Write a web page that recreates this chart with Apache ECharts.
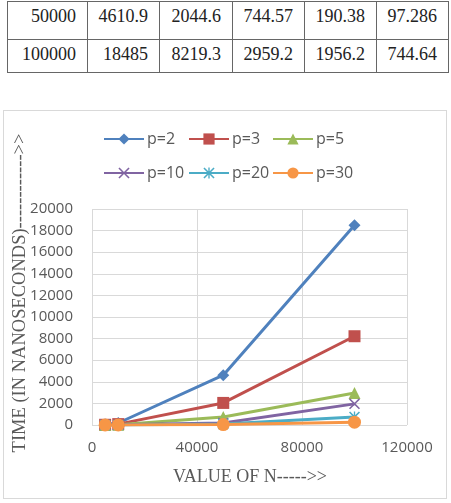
<!DOCTYPE html>
<html>
<head>
<meta charset="utf-8">
<script src="https://cdn.jsdelivr.net/npm/echarts@6/dist/echarts.min.js"></script>
<style>
  html, body { margin: 0; padding: 0; background: #fff; }
  body { width: 451px; height: 503px; position: relative; overflow: hidden; }
  .tbl {
    position: absolute; left: 7px; top: 1px;
    border-collapse: collapse;
    font-family: "Liberation Serif", "Times New Roman", serif;
    font-size: 18px; color: #222;
  }
  .tbl td {
    border: 1px solid #666; text-align: right; vertical-align: top;
    padding: 4px 11px 0 0; line-height: 20px; box-sizing: border-box;
  }
  .tbl tr.r1 td { height: 38px; }
  .tbl tr.r2 td { height: 33px; }
  #box {
    position: absolute; left: 3px; top: 110px; width: 444px; height: 389px;
    border: 1px solid #d9d9d9; box-sizing: border-box;
  }
  #chart { width: 442px; height: 387px; }
</style>
</head>
<body>
<table class="tbl" id="tbl"></table>
<div id="box"><div id="chart"></div></div>
<script>
// table rows (N, p=2, p=3, p=5, p=10, p=20)
const tableRows = [
  ['50000', '4610.9', '2044.6', '744.57', '190.38', '97.286'],
  ['100000', '18485', '8219.3', '2959.2', '1956.2', '744.64']
]
const colWidths = [80, 72, 73, 72, 72, 72]

// chart data
const nValues = [5000, 10000, 50000, 100000]
const seriesNames = ['p=2', 'p=3', 'p=5', 'p=10', 'p=20', 'p=30']
const p2 = [46, 185, 4610.9, 18485]
const p3 = [21, 82, 2044.6, 8219.3]
const p5 = [8, 30, 744.57, 2959.2]
const p10 = [10, 20, 190.38, 1956.2]
const p20 = [5, 10, 97.286, 744.64]
const p30 = [4, 8, 40, 260]
const yTicks = [0, 2000, 4000, 6000, 8000, 10000, 12000, 14000, 16000, 18000, 20000]
const xTicks = [0, 40000, 80000, 120000]

const colors = ['#4F81BD', '#C0504D', '#9BBB59', '#8064A2', '#4BACC6', '#F79646']
const xMark = 'path://M0,1 L1,0 L5,4 L9,0 L10,1 L6,5 L10,9 L9,10 L5,6 L1,10 L0,9 L4,5 Z'
const starMark = 'path://M0,1 L1,0 L5,4 L9,0 L10,1 L6,5 L10,9 L9,10 L5,6 L1,10 L0,9 L4,5 Z M4.4,0 L5.6,0 L5.6,10 L4.4,10 Z'
const symbols = ['diamond', 'rect', 'triangle', xMark, starMark, 'circle']
const symbolSizes = [12, 12, 12, 11, 11, 13]

// build the table
const tbl = document.getElementById('tbl')
tableRows.forEach((row, i) => {
  const tr = document.createElement('tr')
  tr.className = i === 0 ? 'r1' : 'r2'
  row.forEach((v, j) => {
    const td = document.createElement('td')
    td.style.width = colWidths[j] + 'px'
    td.textContent = v
    tr.appendChild(td)
  })
  tbl.appendChild(tr)
})

const allData = [p2, p3, p5, p10, p20, p30]
const gray = '#595959'
const sans = '"Open Sans", sans-serif'
const serif = '"Liberation Serif", "Times New Roman", serif'

const legendPos = [[99, 20], [184, 20], [268, 20], [99, 54], [184, 54], [268, 54]]

const chart = echarts.init(document.getElementById('chart'))
chart.setOption({
  animation: false,
  color: colors,
  grid: { left: 88, top: 98, width: 315, height: 216 },
  legend: seriesNames.map((name, i) => ({
    data: [name],
    left: legendPos[i][0],
    top: legendPos[i][1],
    padding: 0,
    itemWidth: 40,
    itemHeight: 14,
    itemGap: 0,
    textStyle: { color: gray, fontSize: 16, fontFamily: sans, padding: [0, 0, 0, -2] }
  })),
  xAxis: {
    type: 'value',
    min: xTicks[0],
    max: xTicks[xTicks.length - 1],
    interval: xTicks[1] - xTicks[0],
    axisLine: { show: false },
    axisTick: { show: false },
    axisLabel: { color: gray, fontSize: 15, fontFamily: sans, margin: 15, formatter: v => String(v) },
    splitLine: { show: true, lineStyle: { color: '#d9d9d9', width: 1 } }
  },
  yAxis: {
    type: 'value',
    min: yTicks[0],
    max: yTicks[yTicks.length - 1],
    interval: yTicks[1] - yTicks[0],
    axisLine: { show: false },
    axisTick: { show: false },
    axisLabel: { color: gray, fontSize: 15, fontFamily: sans, margin: 19, formatter: v => String(v) },
    splitLine: { lineStyle: { color: '#d9d9d9', width: 1 } }
  },
  graphic: [
    {
      type: 'text',
      x: 246, y: 366,
      style: {
        text: 'VALUE OF N----->>',
        fill: gray, font: '18px ' + serif,
        textAlign: 'center', textVerticalAlign: 'middle'
      }
    },
    {
      type: 'text',
      x: 16, y: 182,
      rotation: Math.PI / 2,
      style: {
        text: 'TIME (IN NANOSECONDS)------------>>',
        fill: gray, font: '18.5px ' + serif,
        textAlign: 'center', textVerticalAlign: 'middle'
      }
    }
  ],
  series: seriesNames.map((name, i) => ({
    name: name,
    type: 'line',
    data: nValues.map((n, k) => [n, allData[i][k]]),
    symbol: symbols[i],
    symbolSize: symbolSizes[i],
    showAllSymbol: true,
    lineStyle: { width: 3, color: colors[i] },
    itemStyle: { color: colors[i] }
  }))
})
</script>
</body>
</html>
